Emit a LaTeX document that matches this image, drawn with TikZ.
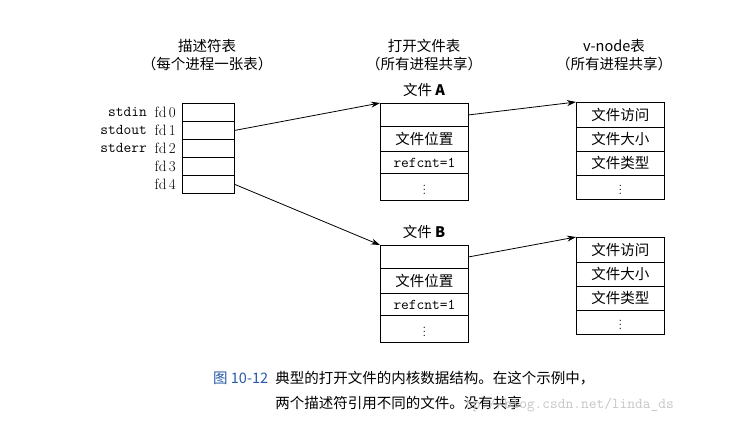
\documentclass[tikz,border=0pt]{standalone}
\usepackage{fontspec}
\newfontfamily\cjk{Noto Sans CJK SC}
\usetikzlibrary{arrows.meta}
\definecolor{capblue}{RGB}{40,90,170}
\begin{document}
\begin{tikzpicture}[x=1pt,y=-1pt,
  cell/.style={draw,thick,minimum width=#1pt,inner sep=0pt,anchor=north west},
  lab/.style={font=\cjk\fontsize{14.5}{16}\selectfont},
  mono/.style={font=\ttfamily\fontsize{15}{16}\selectfont},
  arr/.style={thick,-{Stealth[length=9pt,width=6pt]}}]
\useasboundingbox (0,0) rectangle (739,421);
\fill[white] (0,0) rectangle (739,421);
% headers
\node[lab] (h1) at (207,46) {描述符表};
\node[lab] (h1b) at (207,64) {（每个进程一张表）};
\node[lab] (h2) at (424,46) {打开文件表};
\node[lab] (h2b) at (424,64) {（所有进程共享）};
\node[lab] (h3) at (614,46) {v-node表};
\node[lab] (h3b) at (614,64) {（所有进程共享）};
% descriptor table
\foreach \i/\n in {0/stdin,1/stdout,2/stderr,3/,4/}{
  \node[cell=52,minimum height=18pt] (d\i) at (182,103+18*\i) {};
  \node[anchor=east,inner sep=0pt,font=\fontsize{15}{16}\selectfont] (f\i) at (176,112+18*\i) {fd\,\i};
  \node[anchor=east,inner sep=0pt,mono] (s\i) at (147,112+18*\i) {\n};
}
% open file tables
\foreach \t/\y in {A/103,B/245}{
  \node[lab] (l\t) at (424,\y-13) {文件 \textbf{\t}};
  \node[cell=88,minimum height=23pt] (o\t1) at (380,\y) {};
  \node[cell=88,minimum height=25pt,lab] (o\t2) at (380,\y+23) {文件位置};
  \node[cell=88,minimum height=22pt,mono] (o\t3) at (380,\y+48) {refcnt=1};
  \node[cell=88,minimum height=27pt,font=\fontsize{13}{13}\selectfont] (o\t4) at (380,\y+70) {$\vdots$};
}
% v-node tables
\foreach \t/\y in {A/102,B/237}{
  \node[cell=88,minimum height=24.5pt,lab] (v\t1) at (576,\y) {文件访问};
  \node[cell=88,minimum height=24pt,lab] (v\t2) at (576,\y+24.5) {文件大小};
  \node[cell=88,minimum height=24pt,lab] (v\t3) at (576,\y+48.5) {文件类型};
  \node[cell=88,minimum height=24.5pt,font=\fontsize{13}{13}\selectfont] (v\t4) at (576,\y+72.5) {$\vdots$};
}
% arrows
\draw[arr] (d1.east) -- (oA1.north west);
\draw[arr] (d4.east) -- (oB1.north west);
\draw[arr] (oA1.east) -- (vA1.north west);
\draw[arr] (oB1.east) -- (vB1.north west);
% caption
\node[anchor=west,inner sep=0pt,text=capblue,font=\cjk\fontsize{14.5}{16}\selectfont] (cap0) at (213,378) {图 10-12};
\node[anchor=west,inner sep=0pt,lab] (cap1) at (217,378) {\phantom{图 10-12}\ 典型的打开文件的内核数据结构。在这个示例中，};
\node[anchor=west,inner sep=0pt,lab] (cap2) at (217,403) {\phantom{图 10-12}\ 两个描述符引用不同的文件。没有共享};
\node[anchor=west,inner sep=0pt,text=black!22,font=\ttfamily\fontsize{15}{16}\selectfont] (wm) at (465,405) {tp://blog.csdn.net/linda\_ds};
\end{tikzpicture}
\end{document}
